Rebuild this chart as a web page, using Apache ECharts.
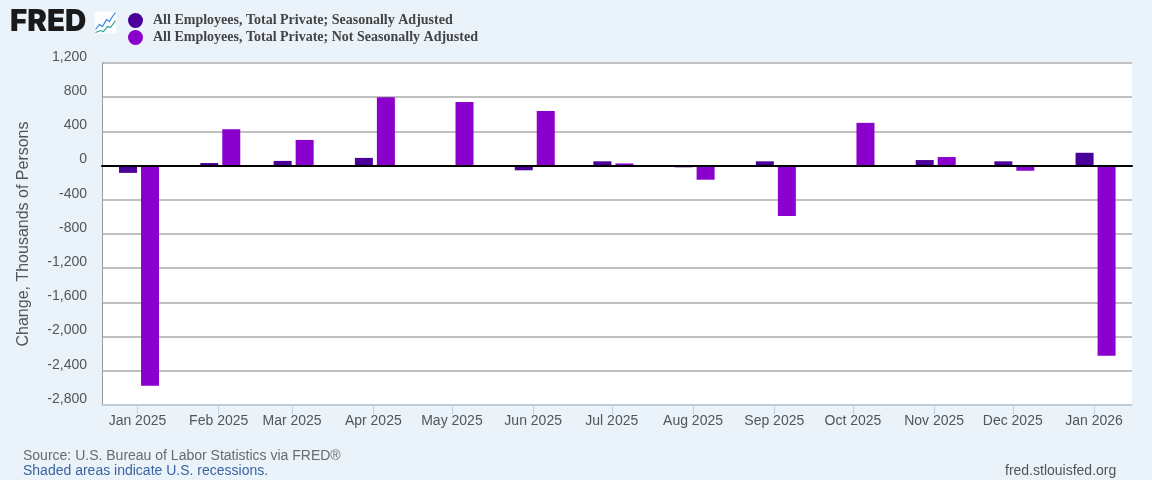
<!DOCTYPE html>
<html><head><meta charset="utf-8">
<style>html,body{margin:0;padding:0;background:#eaf2fa}#c{width:1152px;height:480px}</style>
<script src="https://cdn.jsdelivr.net/npm/echarts@6/dist/echarts.min.js"></script></head>
<body><div id="c"></div>
<script>
const months = ['2025-01-01','2025-02-01','2025-03-01','2025-04-01','2025-05-01','2025-06-01','2025-07-01','2025-08-01','2025-09-01','2025-10-01','2025-11-01','2025-12-01','2026-01-01'];
const seasonallyAdjusted = [-85,30,55,90,0,-55,50,-20,50,0,65,50,150];
const notSeasonallyAdjusted = [-2575,425,300,800,745,640,25,-165,-590,500,100,-60,-2225];
const nameSA = 'All Employees, Total Private; Seasonally Adjusted';
const nameNSA = 'All Employees, Total Private; Not Seasonally Adjusted';
const DAY = 86400000;
const ts = s => +new Date(s + 'T00:00:00');
const monthTs = months.map(ts);
const MON = ['Jan','Feb','Mar','Apr','May','Jun','Jul','Aug','Sep','Oct','Nov','Dec'];
const axisMin = ts('2025-01-01') - 13.53 * DAY;
const axisMax = ts('2026-01-01') + 14.5 * DAY;
const barShift = 0.6 * DAY;
const font = '"Liberation Sans", Arial, sans-serif';
const chart = echarts.init(document.getElementById('c'), null, {renderer:'canvas'});
chart.setOption({
  animation:false,
  backgroundColor:'#eaf2fa',
  textStyle:{fontFamily:font},
  color:['#4b0099','#8a00cc'],
  legend:{
    orient:'vertical', left:123, top:8, itemWidth:15, itemHeight:15, itemGap:2, icon:'circle',
    selectedMode:false,
    textStyle:{fontFamily:'"Liberation Serif", serif', fontWeight:'bold', fontSize:14, color:'#444', padding:[3,0,0,5]},
    data:[nameSA,nameNSA]
  },
  grid:{left:102, right:20, top:63, bottom:75, backgroundColor:'#fff', show:true, borderWidth:0},
  xAxis:[
    {type:'value', min:axisMin-barShift, max:axisMax-barShift, z:5,
     axisLine:{show:true,onZero:true,lineStyle:{color:'#000',width:2}},
     axisTick:{show:false}, axisLabel:{show:false}, splitLine:{show:false}},
    {type:'value', position:'bottom', min:axisMin, max:axisMax,
     axisLine:{show:true,onZero:false,lineStyle:{color:'#c0d0e0',width:1.5}},
     axisTick:{show:true,length:9,customValues:monthTs,lineStyle:{color:'#c0d0e0',width:1}},
     axisLabel:{show:true,customValues:monthTs,margin:9,fontSize:14,color:'#555',fontFamily:font,hideOverlap:false,
       formatter:v=>{const d=new Date(v);return MON[d.getMonth()]+' '+d.getFullYear();}},
     splitLine:{show:false}}
  ],
  yAxis:{
    type:'value', min:-2800, max:1200, interval:400,
    name:'Change, Thousands of Persons', nameLocation:'middle', nameGap:70, nameRotate:90,
    nameTextStyle:{fontSize:16,color:'#555',fontFamily:font},
    axisLine:{show:true,onZero:false,lineStyle:{color:'#9a9a9a',width:1}},
    axisTick:{show:false},
    axisLabel:{margin:15,fontSize:14,color:'#555',fontFamily:font,verticalAlign:'bottom',lineHeight:12,
      formatter:v=>v.toLocaleString('en-US')},
    splitLine:{show:true,lineStyle:{color:'#c0c0c0',width:2}}
  },
  series:[
    {name:nameSA,type:'bar',xAxisIndex:0,barWidth:18,barGap:'22.2%',itemStyle:{color:'#4b0099'},
     data:monthTs.map((t,i)=>[t,seasonallyAdjusted[i]])},
    {name:nameNSA,type:'bar',xAxisIndex:0,barWidth:18,barGap:'22.2%',itemStyle:{color:'#8a00cc'},
     data:monthTs.map((t,i)=>[t,notSeasonallyAdjusted[i]])}
  ],
  graphic:[
    {type:'text',left:10,top:7,style:{text:'FRED',font:'900 29.5px Inter, "Liberation Sans", sans-serif',fill:'#1a1a1a'}},
    {type:'group',left:93,top:10,children:[
      {type:'rect',shape:{x:0,y:0,width:22,height:22,r:1},style:{fill:'#fbfdff'}},
      {type:'polyline',shape:{points:[[1,18],[5,13],[8,15],[12,8],[15,10],[18,5],[21,1]]},style:{fill:'none',stroke:'#2a7de1',lineWidth:1.1}},
      {type:'polyline',shape:{points:[[1,21],[6,19],[9,20],[13,15],[16,16],[21,9]]},style:{fill:'none',stroke:'#2a9d8f',lineWidth:1.1}}
    ]},
    {type:'text',left:23,top:449,style:{text:'Source: U.S. Bureau of Labor Statistics via FRED®',font:'14px "Liberation Sans", sans-serif',fill:'#6b6b6b'}},
    {type:'text',left:23,top:464,style:{text:'Shaded areas indicate U.S. recessions.',font:'14px "Liberation Sans", sans-serif',fill:'#3a64a0'}},
    {type:'text',left:1005,top:464,style:{text:'fred.stlouisfed.org',font:'14px "Liberation Sans", sans-serif',fill:'#555'}}
  ]
});
</script></body></html>
